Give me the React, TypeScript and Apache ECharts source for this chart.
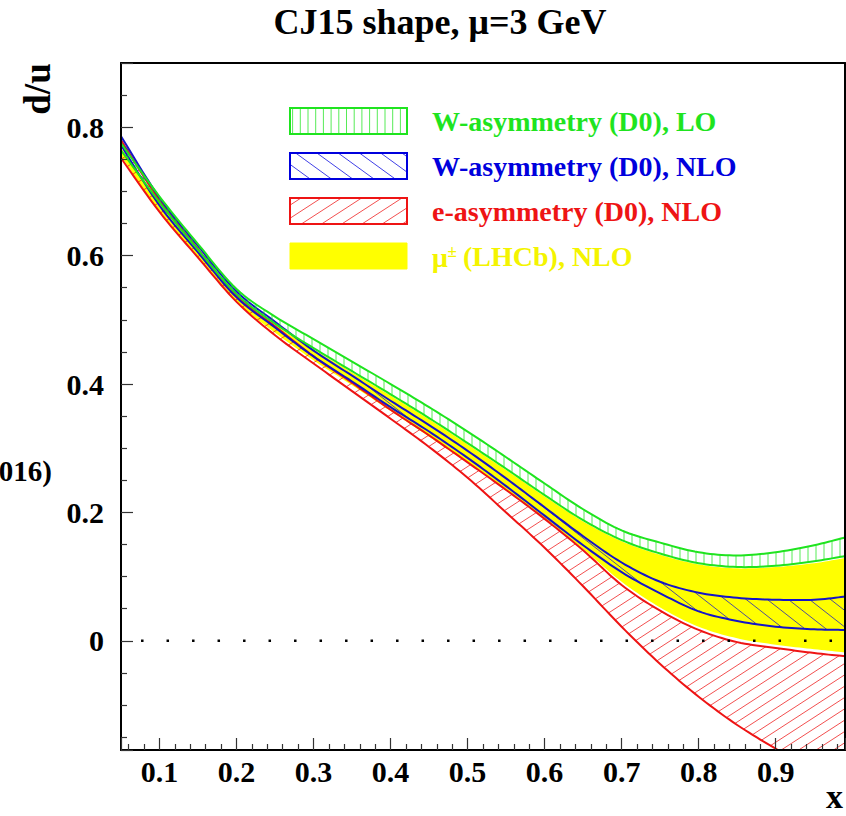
import React, { useEffect, useRef } from "react";
import * as echarts from "echarts";

// ---------------- data ----------------
const xGrid = [0.05, 0.1, 0.15, 0.2, 0.25, 0.3, 0.35, 0.4, 0.45, 0.5, 0.55, 0.6, 0.65, 0.7, 0.75, 0.8, 0.85, 0.9, 0.95, 0.99];

// W-asymmetry (D0), LO  (green, vertical hatch)
const wLoUpper = [0.775, 0.692, 0.618, 0.548, 0.505, 0.47, 0.435, 0.4, 0.364, 0.326, 0.286, 0.245, 0.205, 0.172, 0.153, 0.138, 0.133, 0.138, 0.149, 0.161];
const wLoLower = [0.764, 0.683, 0.609, 0.54, 0.494, 0.456, 0.42, 0.384, 0.347, 0.308, 0.268, 0.227, 0.188, 0.157, 0.136, 0.121, 0.115, 0.117, 0.124, 0.132];
// mu+- (LHCb), NLO (yellow fill)
const lhcbUpper = [0.768, 0.684, 0.61, 0.538, 0.492, 0.454, 0.418, 0.382, 0.345, 0.306, 0.266, 0.225, 0.186, 0.155, 0.134, 0.119, 0.113, 0.115, 0.121, 0.129];
const lhcbLower = [0.755, 0.668, 0.598, 0.528, 0.48, 0.437, 0.398, 0.358, 0.318, 0.277, 0.235, 0.191, 0.143, 0.092, 0.052, 0.022, 0.004, -0.006, -0.013, -0.018];
// W-asymmetry (D0), NLO (blue)
const wNloUpper = [0.786, 0.69, 0.615, 0.544, 0.497, 0.452, 0.413, 0.374, 0.336, 0.296, 0.253, 0.208, 0.163, 0.122, 0.092, 0.075, 0.067, 0.064, 0.064, 0.069];
const wNloLower = [0.772, 0.678, 0.605, 0.535, 0.488, 0.443, 0.404, 0.364, 0.326, 0.285, 0.241, 0.195, 0.149, 0.107, 0.074, 0.046, 0.031, 0.022, 0.018, 0.017];
// e-asymmetry (D0), NLO (red)
const eNloUpper = [0.78, 0.686, 0.61, 0.537, 0.49, 0.443, 0.402, 0.36, 0.32, 0.278, 0.235, 0.19, 0.141, 0.087, 0.047, 0.017, -0.002, -0.011, -0.019, -0.024];
const eNloLower = [0.752, 0.668, 0.597, 0.528, 0.476, 0.432, 0.389, 0.346, 0.302, 0.254, 0.2, 0.145, 0.085, 0.022, -0.036, -0.087, -0.131, -0.168, -0.203, -0.23];

const xTickLabels = ["0.1", "0.2", "0.3", "0.4", "0.5", "0.6", "0.7", "0.8", "0.9"];
const yTickLabels = ["0", "0.2", "0.4", "0.6", "0.8"];

const legendLabels = ["W-asymmetry (D0), LO", "W-asymmetry (D0), NLO", "e-asymmetry (D0), NLO", "(LHCb), NLO"];

// ---------------- styling ----------------
const FONT = "'Liberation Serif', 'Times New Roman', serif";
const GREEN = "#1fe41f";
const BLUE = "#1414c8";
const RED = "#ee1414";
const YELLOW = "#ffff00";

type P = [number, number];

function catmull(pts: P[], n = 10): P[] {
  const out: P[] = [];
  for (let i = 0; i < pts.length - 1; i++) {
    const p0 = pts[Math.max(i - 1, 0)];
    const p1 = pts[i];
    const p2 = pts[i + 1];
    const p3 = pts[Math.min(i + 2, pts.length - 1)];
    for (let k = 0; k < n; k++) {
      const t = k / n;
      const t2 = t * t;
      const t3 = t2 * t;
      const f = (a: number, b: number, c: number, d: number) =>
        0.5 * (2 * b + (-a + c) * t + (2 * a - 5 * b + 4 * c - d) * t2 + (-a + 3 * b - 3 * c + d) * t3);
      out.push([f(p0[0], p1[0], p2[0], p3[0]), f(p0[1], p1[1], p2[1], p3[1])]);
    }
  }
  out.push(pts[pts.length - 1]);
  return out;
}

function clipAxis(poly: P[], axis: 0 | 1, val: number, keepGreater: boolean): P[] {
  const out: P[] = [];
  const n = poly.length;
  for (let i = 0; i < n; i++) {
    const a = poly[i];
    const b = poly[(i + 1) % n];
    const ina = keepGreater ? a[axis] >= val : a[axis] <= val;
    const inb = keepGreater ? b[axis] >= val : b[axis] <= val;
    if (ina) out.push(a);
    if (ina !== inb) {
      const t = (val - a[axis]) / (b[axis] - a[axis]);
      out.push([a[0] + t * (b[0] - a[0]), a[1] + t * (b[1] - a[1])]);
    }
  }
  return out;
}

function clipRect(poly: P[], x0: number, y0: number, x1: number, y1: number): P[] {
  let p = clipAxis(poly, 0, x0, true);
  p = clipAxis(p, 0, x1, false);
  p = clipAxis(p, 1, y0, true);
  p = clipAxis(p, 1, y1, false);
  return p;
}

function hatchLines(poly: P[], angleDeg: number, spacing: number): [P, P][] {
  const a = (angleDeg * Math.PI) / 180;
  const d = [Math.cos(a), -Math.sin(a)];
  const nrm = [-d[1], d[0]];
  const cs = poly.map((p) => p[0] * nrm[0] + p[1] * nrm[1]);
  let cmin = Infinity;
  let cmax = -Infinity;
  cs.forEach((c) => {
    cmin = Math.min(cmin, c);
    cmax = Math.max(cmax, c);
  });
  const segs: [P, P][] = [];
  for (let c = Math.ceil(cmin / spacing) * spacing; c <= cmax; c += spacing) {
    const hits: number[][] = [];
    for (let i = 0; i < poly.length; i++) {
      const j = (i + 1) % poly.length;
      const da = cs[i] - c;
      const db = cs[j] - c;
      if (da < 0 !== db < 0) {
        const t = da / (da - db);
        const px = poly[i][0] + t * (poly[j][0] - poly[i][0]);
        const py = poly[i][1] + t * (poly[j][1] - poly[i][1]);
        hits.push([px, py, px * d[0] + py * d[1]]);
      }
    }
    hits.sort((u, v) => u[2] - v[2]);
    for (let k = 0; k + 1 < hits.length; k += 2) {
      segs.push([
        [hits[k][0], hits[k][1]],
        [hits[k + 1][0], hits[k + 1][1]],
      ]);
    }
  }
  return segs;
}

type BandCfg = {
  name: string;
  upper: number[];
  lower: number[];
  color: string;
  fill?: string;
  hatch?: { angle: number; spacing: number };
  outline: boolean;
};

function bandSeries(cfg: BandCfg) {
  return {
    type: "custom",
    name: cfg.name,
    xAxisIndex: 0,
    yAxisIndex: 0,
    silent: true,
    data: [[xGrid[0], cfg.upper[0]]],
    renderItem: (params: any, api: any) => {
      const cs = params.coordSys;
      const up: P[] = xGrid.map((x, i) => api.coord([x, cfg.upper[i]]) as P);
      const lo: P[] = xGrid.map((x, i) => api.coord([x, cfg.lower[i]]) as P);
      const poly = catmull(up).concat(catmull(lo).reverse());
      const clipped = clipRect(poly, cs.x, cs.y, cs.x + cs.width, cs.y + cs.height);
      const children: any[] = [];
      if (cfg.fill) {
        children.push({
          type: "polygon",
          shape: { points: clipped },
          style: { fill: cfg.fill, stroke: "none" },
        });
      }
      if (cfg.hatch) {
        hatchLines(clipped, cfg.hatch.angle, cfg.hatch.spacing).forEach((s) => {
          children.push({
            type: "line",
            shape: { x1: s[0][0], y1: s[0][1], x2: s[1][0], y2: s[1][1] },
            style: { stroke: cfg.color, lineWidth: 1, opacity: 0.75 },
          });
        });
      }
      if (cfg.outline) {
        children.push({
          type: "polygon",
          shape: { points: clipped },
          style: { fill: "none", stroke: cfg.color, lineWidth: 2 },
        });
      }
      return { type: "group", children };
    },
  };
}

function legendGraphic() {
  const els: any[] = [];
  const bx = 290;
  const bw = 117;
  const bh = 26;
  const rows = [108, 153, 198, 243];
  const colors = [GREEN, "#0000dd", RED, YELLOW];
  const hatches = [
    { angle: 90, spacing: 7.7 },
    { angle: -36, spacing: 12.5 },
    { angle: 33, spacing: 11 },
    null,
  ];
  rows.forEach((ry, i) => {
    const rectPoly: P[] = [
      [bx, ry],
      [bx + bw, ry],
      [bx + bw, ry + bh],
      [bx, ry + bh],
    ];
    if (i === 3) {
      els.push({
        type: "rect",
        z: 20,
        shape: { x: bx, y: ry, width: bw, height: bh },
        style: { fill: YELLOW, stroke: YELLOW, lineWidth: 1 },
      });
    } else {
      const h = hatches[i]!;
      hatchLines(rectPoly, h.angle, h.spacing).forEach((s) => {
        els.push({
          type: "line",
          z: 20,
          shape: { x1: s[0][0], y1: s[0][1], x2: s[1][0], y2: s[1][1] },
          style: { stroke: colors[i], lineWidth: 1, opacity: 0.75 },
        });
      });
      els.push({
        type: "rect",
        z: 21,
        shape: { x: bx, y: ry, width: bw, height: bh },
        style: { fill: "none", stroke: colors[i], lineWidth: 2 },
      });
    }
    const cy = ry + bh / 2;
    const textStyle = (text: string, x: number, y: number, size: number, color: string) => ({
      type: "text",
      z: 22,
      x,
      y,
      style: {
        text,
        fill: color,
        fontFamily: FONT,
        fontWeight: "bold",
        fontSize: size,
        textAlign: "left",
        align: "left",
        textVerticalAlign: "middle",
        verticalAlign: "middle",
      },
    });
    if (i === 3) {
      els.push(textStyle("μ", 432, cy + 1, 28, "#f4f400"));
      els.push(textStyle("±", 447.5, cy - 5, 17, "#f4f400"));
      els.push(textStyle(legendLabels[i], 463, cy, 28, "#f4f400"));
    } else {
      els.push(textStyle(legendLabels[i], 432, cy, 28, colors[i]));
    }
  });
  return els;
}

function textEl(text: string, x: number, y: number, size: number, align: string, rotation = 0) {
  return {
    type: "text",
    z: 30,
    x,
    y,
    rotation,
    style: {
      text,
      fill: "#000",
      fontFamily: FONT,
      fontWeight: "bold",
      fontSize: size,
      textAlign: align,
      align,
      textVerticalAlign: "middle",
      verticalAlign: "middle",
    },
  };
}

const labelFmt = (list: string[]) => (v: number) => {
  const s = list.find((t) => Math.abs(parseFloat(t) - v) < 1e-6);
  return s === undefined ? "" : s;
};

export default function App() {
  const ref = useRef<HTMLDivElement>(null);
  useEffect(() => {
    if (!ref.current) return;
    const chart = echarts.init(ref.current, undefined, { renderer: "svg" });
    const axisLineStyle = { color: "#000", width: 2 };
    const tickStyle = { color: "#333", width: 1.2 };
    const labelStyle = { fontFamily: FONT, fontWeight: "bold" as const, fontSize: 30, color: "#000" };
    const bands: BandCfg[] = [
      { name: "lhcb", upper: lhcbUpper, lower: lhcbLower, color: YELLOW, fill: YELLOW, outline: false },
      { name: "eNLO", upper: eNloUpper, lower: eNloLower, color: RED, hatch: { angle: 33, spacing: 9.5 }, outline: true },
      { name: "wNLO", upper: wNloUpper, lower: wNloLower, color: BLUE, hatch: { angle: -38, spacing: 13 }, outline: true },
      { name: "wLO", upper: wLoUpper, lower: wLoLower, color: GREEN, hatch: { angle: 90, spacing: 8 }, outline: true },
    ];
    const option: any = {
      animation: false,
      backgroundColor: "#ffffff",
      grid: { left: 121, top: 63, width: 724, height: 687, show: false },
      xAxis: [
        {
          type: "value",
          min: 0.05,
          max: 0.99,
          splitNumber: 10,
          position: "bottom",
          z: 5,
          axisLine: { show: true, onZero: false, lineStyle: axisLineStyle },
          axisTick: { show: true, inside: true, length: 12, lineStyle: tickStyle },
          minorTick: { show: true, splitNumber: 5, length: 6, lineStyle: tickStyle },
          splitLine: { show: false },
          minorSplitLine: { show: false },
          axisLabel: { ...labelStyle, margin: 6, showMinLabel: false, showMaxLabel: false, formatter: labelFmt(xTickLabels) },
        },
        {
          type: "value",
          min: 0.05,
          max: 0.99,
          position: "top",
          z: 5,
          axisLine: { show: true, onZero: false, lineStyle: axisLineStyle },
          axisTick: { show: false },
          axisLabel: { show: false },
          splitLine: { show: false },
        },
      ],
      yAxis: [
        {
          type: "value",
          min: -0.17,
          max: 0.9,
          splitNumber: 5,
          position: "left",
          z: 5,
          axisLine: { show: true, onZero: false, lineStyle: axisLineStyle },
          axisTick: { show: true, inside: true, length: 12, lineStyle: tickStyle },
          minorTick: { show: true, splitNumber: 4, length: 6, lineStyle: tickStyle },
          splitLine: { show: false },
          minorSplitLine: { show: false },
          axisLabel: { ...labelStyle, margin: 17, showMinLabel: false, showMaxLabel: false, formatter: labelFmt(yTickLabels) },
        },
        {
          type: "value",
          min: -0.17,
          max: 0.9,
          position: "right",
          z: 5,
          axisLine: { show: true, onZero: false, lineStyle: axisLineStyle },
          axisTick: { show: false },
          axisLabel: { show: false },
          splitLine: { show: false },
        },
      ],
      series: [
        ...bands.map(bandSeries),
        {
          type: "line",
          name: "zero",
          xAxisIndex: 0,
          yAxisIndex: 0,
          silent: true,
          clip: false,
          z: 4,
          symbol: "none",
          showSymbol: false,
          data: [
            [0.0429, 0],
            [0.99, 0],
          ],
          lineStyle: { color: "#000", width: 2.5, type: [2.5, 23], cap: "butt" },
        },
      ],
      graphic: [
        textEl("CJ15 shape, μ=3 GeV", 440, 22, 36, "center"),
        textEl("d/u", 37, 89, 37, "center", Math.PI / 2),
        textEl("x", 843, 796, 34, "right"),
        textEl("016)", 52, 471, 29, "right"),
        ...legendGraphic(),
      ],
    };
    chart.setOption(option);
    return () => chart.dispose();
  }, []);
  return <div ref={ref} style={{ position: "fixed", left: 0, top: 0, width: 846, height: 816, background: "#fff" }} />;
}
